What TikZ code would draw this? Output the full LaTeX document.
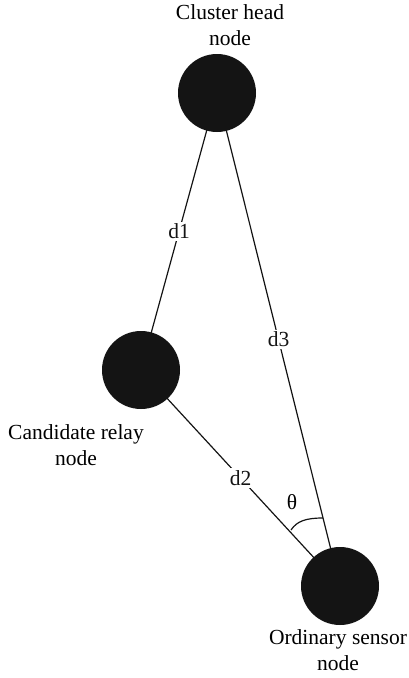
\documentclass[tikz,border=0pt]{standalone}
\usepackage{fontspec}
\setmainfont{Liberation Serif}
\begin{document}
\begin{tikzpicture}[x=1pt,y=-1pt,
  dot/.style={circle,fill=black!92,draw=none,minimum size=78pt,inner sep=0pt},
  lab/.style={font=\fontsize{21.5}{26}\selectfont,align=center,inner sep=0pt,anchor=north},
  dist/.style={font=\fontsize{21.5}{26}\selectfont,fill=white,inner sep=2pt},
  link/.style={line width=1.2pt,black!92}]
\useasboundingbox (0,0) rectangle (409,678);
\node[dot] (head) at (217,93) {};
\node[dot] (relay) at (141,370) {};
\node[dot] (sensor) at (340,586) {};
\node[lab] (headlab) at (230,4) {Cluster head\\node};
\node[lab] (relaylab) at (76,424) {Candidate relay\\node};
\node[lab] (sensorlab) at (338,629) {Ordinary sensor\\node};
\draw[link] (head.center) -- node[dist] (d1) {d1} (relay.center);
\draw[link] (relay.center) -- node[dist] (d2) {d2} (sensor.center);
\draw[link] (head.center) -- node[dist] (d3) {d3} (sensor.center);
\coordinate (a1) at (291,530);
\coordinate (a2) at (323,518);
\draw[link] (a1) .. controls (297,521) and (306,518) .. (a2);
\node[font=\fontsize{21.5}{26}\selectfont,inner sep=0pt] (theta) at (292,502) {θ};
\end{tikzpicture}
\end{document}
